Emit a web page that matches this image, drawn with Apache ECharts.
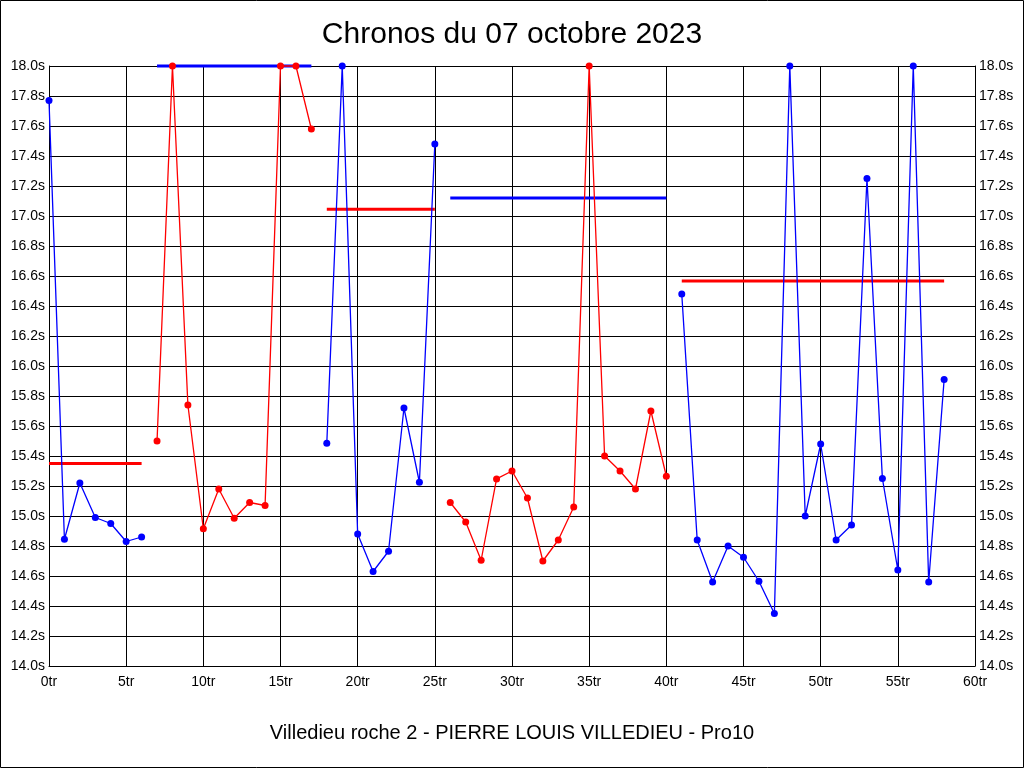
<!DOCTYPE html>
<html>
<head>
<meta charset="utf-8">
<script src="https://cdn.jsdelivr.net/npm/echarts@6/dist/echarts.min.js"></script>
<style>html,body{margin:0;padding:0;background:#fff}#c{width:1024px;height:768px}</style>
</head>
<body>
<div id="c"></div>
<script>
// Lap times (seconds), grouped into runs; lap index starts at each run's first lap
const run1Start = 0;
const run1 = [17.77, 14.845, 15.22, 14.99, 14.95, 14.83, 14.86];
const run2Start = 7;
const run2 = [15.50, 18.0, 15.74, 14.915, 15.18, 14.985, 15.09, 15.07, 18.0, 18.0, 17.58];
const run3Start = 18;
const run3 = [15.485, 18.0, 14.88, 14.63, 14.765, 15.72, 15.225, 17.48];
const run4Start = 26;
const run4 = [15.09, 14.96, 14.705, 15.247, 15.30, 15.12, 14.70, 14.84, 15.06, 18.0, 15.40, 15.30, 15.18, 15.70, 15.265];
const run5Start = 41;
const run5 = [16.48, 14.84, 14.56, 14.80, 14.725, 14.565, 14.35, 18.0, 15.00, 15.48, 14.84, 14.94, 17.25, 15.25, 14.64, 18.0, 14.56, 15.91];
// Average per run
const runAverages = [15.35, 18.0, 17.045, 17.12, 16.567];
const runColors = ['#0000ff', '#ff0000', '#0000ff', '#ff0000', '#0000ff'];
const avgColors = ['#ff0000', '#0000ff', '#ff0000', '#0000ff', '#ff0000'];
const xTicks = ['0tr','5tr','10tr','15tr','20tr','25tr','30tr','35tr','40tr','45tr','50tr','55tr','60tr'];

const runs = [[run1Start, run1],[run2Start, run2],[run3Start, run3],[run4Start, run4],[run5Start, run5]];
const series = [];
runs.forEach(([start, vals], i) => {
  const end = start + vals.length - 1;
  series.push({
    type: 'line', clip: false, silent: true, z: 3,
    data: [[start, runAverages[i]], [end, runAverages[i]]],
    symbol: 'none',
    lineStyle: { color: avgColors[i], width: 3 }
  });
  series.push({
    type: 'line', clip: false, silent: true, z: 4,
    data: vals.map((v, k) => [start + k, v]),
    symbol: 'circle', symbolSize: 7, showAllSymbol: true,
    itemStyle: { color: runColors[i] },
    lineStyle: { color: runColors[i], width: 1.3 }
  });
});

const yLabel = v => v.toFixed(1) + 's';
const chart = echarts.init(document.getElementById('c'), null, { renderer: 'canvas' });
chart.setOption({
  animation: false,
  backgroundColor: '#fff',
  title: [
    { text: 'Chronos du 07 octobre 2023', left: 'center', top: 15,
      textStyle: { fontFamily: 'Liberation Sans', fontSize: 30, fontWeight: 'normal', color: '#000' } },
    { text: 'Villedieu roche 2 - PIERRE LOUIS VILLEDIEU - Pro10', left: 'center', top: 718,
      textStyle: { fontFamily: 'Liberation Sans', fontSize: 20, fontWeight: 'normal', color: '#000' } }
  ],
  graphic: [{ type: 'rect', shape: { x: 0.5, y: 0.5, width: 1023, height: 767 },
    style: { fill: 'none', stroke: '#000', lineWidth: 1 }, silent: true }],
  grid: { left: 49, right: 49, top: 66, bottom: 102 },
  xAxis: {
    type: 'value', min: 0, max: 60, interval: 5,
    axisLine: { show: true, lineStyle: { color: '#000', width: 1 } },
    axisTick: { show: false },
    splitLine: { show: true, lineStyle: { color: '#000', width: 1 } },
    axisLabel: { color: '#000', fontFamily: 'Liberation Sans', fontSize: 14, margin: 9,
      formatter: v => xTicks[Math.round(v / 5)] }
  },
  yAxis: [{
    type: 'value', min: 14, max: 18, interval: 0.2, position: 'left',
    axisLine: { show: true, lineStyle: { color: '#000', width: 1 } },
    axisTick: { show: false },
    splitLine: { show: true, lineStyle: { color: '#000', width: 1 } },
    axisLabel: { color: '#000', fontFamily: 'Liberation Sans', fontSize: 14, margin: 4, formatter: yLabel }
  }, {
    type: 'value', min: 14, max: 18, interval: 0.2, position: 'right',
    axisLine: { show: true, lineStyle: { color: '#000', width: 1 } },
    axisTick: { show: false },
    splitLine: { show: false },
    axisLabel: { color: '#000', fontFamily: 'Liberation Sans', fontSize: 14, margin: 4, formatter: yLabel }
  }],
  series: series
});
</script>
</body>
</html>
